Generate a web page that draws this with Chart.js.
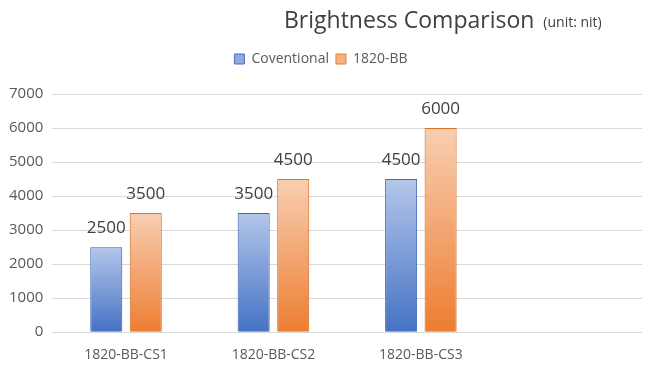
<!DOCTYPE html>
<html lang="en">
<head>
  <meta charset="UTF-8" />
  <title>Brightness Comparison</title>
  <script src="https://cdn.jsdelivr.net/npm/chart.js"></script>
  <style>
    body { margin: 0; background: #fff; }
    .wrap { width: 648px; height: 371px; }
  </style>
</head>
<body>
  <div class="wrap"><canvas id="chart" width="648" height="371"></canvas></div>
  <script>
    // data
    const categories = ['1820-BB-CS1', '1820-BB-CS2', '1820-BB-CS3', ''];
    const conventional = [2500, 3500, 4500, null];
    const bb1820 = [3500, 4500, 6000, null];
    const yTicks = [0, 1000, 2000, 3000, 4000, 5000, 6000, 7000];

    const FONT = '"Open Sans", "Noto Sans", sans-serif';

    // vertical gradient running over one bar
    function barGrad(c, top, bottom) {
      const chart = c.chart;
      if (!chart.chartArea || c.raw == null) return bottom;
      const y = chart.scales.y;
      const g = chart.ctx.createLinearGradient(0, y.getPixelForValue(c.raw), 0, y.getPixelForValue(0));
      g.addColorStop(0, top);
      g.addColorStop(1, bottom);
      return g;
    }

    // title drawn by hand (two font sizes)
    const titlePlugin = {
      id: 'titleText',
      afterDraw(chart) {
        const ctx = chart.ctx;
        ctx.save();
        ctx.fillStyle = '#404040';
        ctx.textBaseline = 'alphabetic';
        ctx.font = '23px ' + FONT;
        ctx.fillText('Brightness Comparison', 284, 28);
        const w = ctx.measureText('Brightness Comparison').width;
        ctx.font = '14px ' + FONT;
        ctx.fillText('(unit: nit)', 284 + w + 9, 27);
        ctx.restore();
      }
    };

    // room between legend and plot
    const legendGap = {
      id: 'legendGap',
      beforeInit(chart) {
        const fit = chart.legend.fit;
        chart.legend.fit = function () {
          fit.call(this);
          this.height += 18;
        };
      }
    };

    // soft shadow on bars
    const shadowPlugin = {
      id: 'barShadow',
      beforeDatasetDraw(chart, args) {
        const ctx = chart.ctx;
        ctx.save();
        ctx.shadowColor = args.index === 1 ? 'rgba(237,125,49,0.35)' : 'rgba(68,114,196,0.25)';
        ctx.shadowBlur = 6;
      },
      afterDatasetDraw(chart) {
        chart.ctx.restore();
      }
    };

    // value labels above bars
    const labelPlugin = {
      id: 'valueLabels',
      afterDatasetsDraw(chart) {
        const ctx = chart.ctx;
        ctx.save();
        ctx.font = '17px ' + FONT;
        ctx.fillStyle = '#404040';
        ctx.textAlign = 'center';
        ctx.textBaseline = 'alphabetic';
        chart.data.datasets.forEach((ds, i) => {
          chart.getDatasetMeta(i).data.forEach((bar, j) => {
            const v = ds.data[j];
            if (v == null) return;
            ctx.fillText(String(v), bar.x, bar.y - 14);
          });
        });
        ctx.restore();
      }
    };

    new Chart(document.getElementById('chart'), {
      type: 'bar',
      data: {
        labels: categories,
        datasets: [{
          label: 'Coventional',
          data: conventional,
          backgroundColor: c => barGrad(c, '#b4c6ea', '#4472c4'),
          borderColor: '#3f68b5',
          borderWidth: 1
        }, {
          label: '1820-BB',
          data: bb1820,
          backgroundColor: c => barGrad(c, '#f8cfb2', '#ed7d31'),
          borderColor: '#d9712b',
          borderWidth: 1
        }]
      },
      options: {
        responsive: false,
        animation: false,
        devicePixelRatio: 1,
        categoryPercentage: 0.536,
        barPercentage: 0.81,
        layout: { padding: { top: 45, left: 0, right: 6, bottom: 2 } },
        plugins: {
          legend: {
            labels: {
              font: { family: FONT, size: 14 },
              color: '#595959',
              boxWidth: 10,
              boxHeight: 10,
              padding: 7,
              generateLabels(chart) {
                const cols = [['#8faadc', '#4472c4'], ['#f4b183', '#ed7d31']];
                return chart.data.datasets.map((ds, i) => ({
                  text: ds.label,
                  fillStyle: cols[i][0],
                  strokeStyle: cols[i][1],
                  lineWidth: 1,
                  datasetIndex: i,
                  fontColor: '#595959'
                }));
              }
            }
          },
          tooltip: { enabled: false }
        },
        scales: {
          x: {
            grid: { display: false },
            border: { display: false },
            ticks: { font: { family: FONT, size: 14 }, color: '#595959', padding: 6 }
          },
          y: {
            min: 0,
            max: 7000,
            afterBuildTicks(axis) { axis.ticks = yTicks.map(v => ({ value: v })); },
            grid: { color: '#d9d9d9', drawTicks: false },
            border: { display: false },
            ticks: {
              font: { family: FONT, size: 15 },
              color: '#595959',
              padding: 9,
              callback: v => String(v)
            }
          }
        }
      },
      plugins: [titlePlugin, legendGap, shadowPlugin, labelPlugin]
    });
  </script>
</body>
</html>
